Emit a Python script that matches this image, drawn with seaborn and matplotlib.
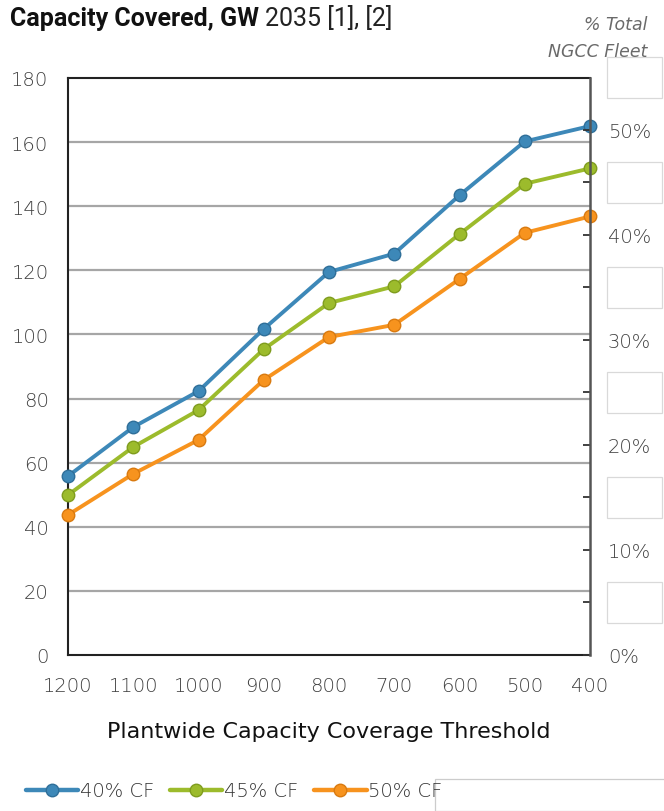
import matplotlib
matplotlib.use("Agg")
import matplotlib.pyplot as plt
import matplotlib.transforms as mtransforms
from matplotlib.patches import Rectangle
from matplotlib.lines import Line2D
import numpy as np
import pandas as pd
import seaborn as sns

# Plantwide capacity coverage thresholds (MW) and capacity covered (GW) in 2035
thresholds = [1200, 1100, 1000, 900, 800, 700, 600, 500, 400]
cf40 = [55.8, 71.1, 82.3, 101.7, 119.5, 125.2, 143.4, 160.2, 165.0]
cf45 = [49.9, 64.9, 76.4, 95.4, 109.8, 115.0, 131.3, 147.0, 151.8]
cf50 = [43.7, 56.5, 67.1, 85.8, 99.2, 103.0, 117.3, 131.7, 136.8]
series_names = ["40% CF", "45% CF", "50% CF"]
fleet_total_gw = 327.6  # total NGCC fleet, for the secondary % axis

df = pd.DataFrame({
    "threshold": thresholds * 3,
    "gw": cf40 + cf45 + cf50,
    "series": np.repeat(series_names, len(thresholds)),
})

colors = {"40% CF": "#3d88b8", "45% CF": "#9cbb2c", "50% CF": "#f7931e"}
edges = {"40% CF": "#2f6f99", "45% CF": "#7f9c1e", "50% CF": "#d97a10"}

sns.set_theme(style="white")
plt.rcParams["font.family"] = ["DejaVu Sans"]

fig = plt.figure(figsize=(6.64, 8.12), dpi=100)
ax = fig.add_axes([68 / 664, 1 - 656 / 812, (590 - 68) / 664, (656 - 79) / 812])

for name in series_names:
    sub = df[df["series"] == name]
    sns.lineplot(data=sub, x="threshold", y="gw", ax=ax, color=colors[name],
                 linewidth=2.8, marker="o", markersize=9,
                 markeredgecolor=edges[name], markeredgewidth=1.0,
                 legend=False, clip_on=False, zorder=5)

ax.set_xlim(1200, 400)
ax.set_ylim(0, 180)
ax.set_xticks(thresholds)
ax.set_yticks(np.arange(0, 181, 20))
ax.set_xlabel("Plantwide Capacity Coverage Threshold", fontsize=16,
              color="#111111", labelpad=19)
ax.set_ylabel("")
for y in range(20, 180, 20):
    ax.axhline(y, color="#a6a6a6", linewidth=1.6, zorder=1)
ax.grid(False)

tick_color = "#404040"
ax.tick_params(axis="y", length=0, pad=14, labelsize=14, labelcolor=tick_color)
ax.tick_params(axis="x", direction="in", length=5, width=1.3, color="#333333",
               pad=15, labelsize=14, labelcolor=tick_color)
for lab in ax.get_xticklabels() + ax.get_yticklabels():
    lab.set_fontweight("light")
for side in ["left", "bottom", "top"]:
    ax.spines[side].set_color("#222222")
    ax.spines[side].set_linewidth(1.5)
ax.spines["right"].set_visible(False)

# secondary axis: share of the total NGCC fleet
ax2 = ax.twinx()
ax2.set_ylim(0, 180 / fleet_total_gw * 100)
ax2.set_yticks(np.arange(0, 51, 5))
ax2.set_yticklabels([f"{v}%" if v % 10 == 0 else "" for v in range(0, 51, 5)])
ax2.tick_params(axis="y", direction="in", length=5, width=1.3, color="#333333",
                pad=13, labelsize=14, labelcolor=tick_color)
for lab in ax2.get_yticklabels():
    lab.set_fontweight("light")
ax2.spines["right"].set_color("#555555")
ax2.spines["right"].set_linewidth(1.8)
for side in ["left", "bottom", "top"]:
    ax2.spines[side].set_visible(False)
ax2.grid(False)

# empty label boxes beside the secondary axis
blend = mtransforms.blended_transform_factory(fig.transFigure, ax2.transData)
for v in [55, 45, 35, 25, 15, 5]:
    fig.patches.append(Rectangle((607 / 664, v - 1.95), 55 / 664, 3.9,
                                 transform=blend, facecolor="white",
                                 edgecolor="#d9d9d9", linewidth=0.9))

# title: bold lead followed by regular-weight year and notes
title_y = 1 - 19 / 812
t1 = fig.text(10 / 664, title_y, "Capacity Covered, GW", fontsize=18,
              fontweight="bold", family="Roboto", color="#111111", va="center")
fig.canvas.draw()
bb = t1.get_window_extent(renderer=fig.canvas.get_renderer())
fig.text(bb.x1 / fig.bbox.width + 6 / 664, title_y, "2035 [1], [2]",
         fontsize=18, family="Roboto", color="#222222", va="center")
fig.text(648 / 664, 1 - 25 / 812, "% Total", fontsize=12.5, style="italic",
         fontweight="light", color="#6a6a6a", ha="right", va="center")
fig.text(648 / 664, 1 - 52 / 812, "NGCC Fleet", fontsize=12.5, style="italic",
         fontweight="light", color="#6a6a6a", ha="right", va="center")

# legend
handles = [Line2D([0], [0], color=colors[n], linewidth=3.2, marker="o",
                  markersize=9, markeredgecolor=edges[n]) for n in series_names]
leg = fig.legend(handles, series_names, loc="center left",
                 bbox_to_anchor=(8 / 664, 1 - 792 / 812), ncol=3,
                 frameon=False, fontsize=14, handlelength=2.7,
                 handletextpad=0.1, columnspacing=0.8)
for t in leg.get_texts():
    t.set_fontweight("light")
    t.set_color("#333333")
fig.patches.append(Rectangle((435 / 664, 0), 240 / 664, 32 / 812,
                             transform=fig.transFigure, facecolor="white",
                             edgecolor="#cccccc", linewidth=0.9))

fig.savefig("out.png", dpi=100)
